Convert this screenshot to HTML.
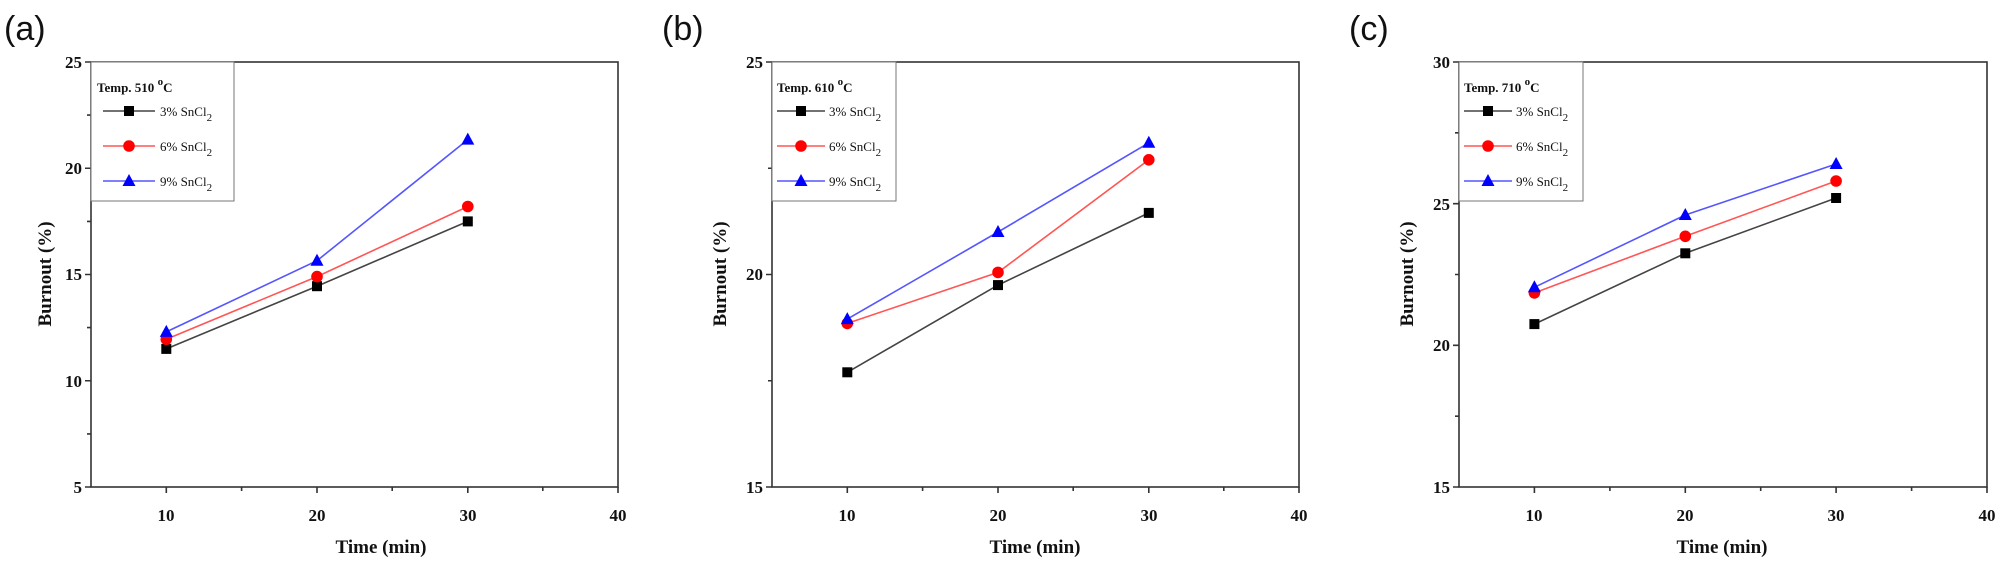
<!DOCTYPE html>
<html><head><meta charset="utf-8"><style>
html,body{margin:0;padding:0;background:#fff;}
svg{display:block;}
.tl{font-family:"Liberation Serif",serif;font-weight:bold;font-size:17px;fill:#111;}
.lab{font-family:"Liberation Serif",serif;font-weight:bold;font-size:19px;fill:#111;}
.leg{font-family:"Liberation Serif",serif;font-size:13px;fill:#111;}
.legt{font-family:"Liberation Serif",serif;font-weight:bold;font-size:13px;fill:#111;}
.pl{font-family:"Liberation Sans",sans-serif;font-size:34px;fill:#111;}
</style></head><body>
<svg width="2002" height="562" viewBox="0 0 2002 562" xmlns="http://www.w3.org/2000/svg">
<defs>
<g id="sq"><rect x="-5" y="-5" width="10" height="10" fill="#000"/></g>
<g id="ci"><circle r="5.8" fill="#f00"/></g>
<g id="tr"><polygon points="0,-7 6.5,5 -6.5,5" fill="#00f"/></g>
</defs>

<!-- ===== Panel A ===== -->
<text class="pl" x="4" y="40">(a)</text>
<g stroke="#333" stroke-width="1.6" fill="none">
<rect x="91" y="62" width="527" height="425"/>
<path d="M91 62h-6M91 168.25h-6M91 274.5h-6M91 380.75h-6M91 487h-6M91 115.1h-4M91 221.4h-4M91 327.6h-4M91 433.9h-4"/>
<path d="M166.3 487v6M317 487v6M467.8 487v6M618 487v6M241.6 487v4M392.2 487v4M542.8 487v4"/>
</g>
<g class="tl" text-anchor="end">
<text x="82" y="68">25</text><text x="82" y="174">20</text><text x="82" y="280">15</text><text x="82" y="387">10</text><text x="82" y="493">5</text>
</g>
<g class="tl" text-anchor="middle">
<text x="166" y="521">10</text><text x="317" y="521">20</text><text x="468" y="521">30</text><text x="618" y="521">40</text>
</g>
<text class="lab" x="381" y="553" text-anchor="middle">Time (min)</text>
<text class="lab" transform="translate(51,274) rotate(-90)" text-anchor="middle">Burnout (%)</text>
<rect x="91" y="62" width="143" height="139" fill="#fff" stroke="#777" stroke-width="1"/>
<text class="legt" x="97" y="92">Temp. 510 <tspan dy="-7" font-size="11">o</tspan><tspan dy="7">C</tspan></text>
<line x1="103" y1="111" x2="155" y2="111" stroke="#444" stroke-width="1.5"/><use href="#sq" x="129" y="111"/>
<text class="leg" x="160" y="116">3% SnCl<tspan dy="5" font-size="11">2</tspan></text>
<line x1="103" y1="146" x2="155" y2="146" stroke="#f55" stroke-width="1.5"/><use href="#ci" x="129" y="146"/>
<text class="leg" x="160" y="151">6% SnCl<tspan dy="5" font-size="11">2</tspan></text>
<line x1="103" y1="181" x2="155" y2="181" stroke="#55f" stroke-width="1.5"/><use href="#tr" x="129" y="181"/>
<text class="leg" x="160" y="186">9% SnCl<tspan dy="5" font-size="11">2</tspan></text>
<polyline points="166.3,348.9 317,286.2 467.8,221.4" fill="none" stroke="#444" stroke-width="1.6"/>
<polyline points="166.3,339.3 317,276.6 467.8,206.5" fill="none" stroke="#f55" stroke-width="1.6"/>
<polyline points="166.3,331.9 317,260.7 467.8,139.6" fill="none" stroke="#55f" stroke-width="1.6"/>
<use href="#sq" x="166.3" y="348.9"/><use href="#sq" x="317" y="286.2"/><use href="#sq" x="467.8" y="221.4"/>
<use href="#ci" x="166.3" y="339.3"/><use href="#ci" x="317" y="276.6"/><use href="#ci" x="467.8" y="206.5"/>
<use href="#tr" x="166.3" y="331.9"/><use href="#tr" x="317" y="260.7"/><use href="#tr" x="467.8" y="139.6"/>

<!-- ===== Panel B ===== -->
<text class="pl" x="662" y="40">(b)</text>
<g stroke="#333" stroke-width="1.6" fill="none">
<rect x="772" y="62" width="527" height="425"/>
<path d="M772 62h-6M772 274.5h-6M772 487h-6M772 168.25h-4M772 380.75h-4"/>
<path d="M847.3 487v6M998 487v6M1148.8 487v6M1299 487v6M922.6 487v4M1073.2 487v4M1223.8 487v4"/>
</g>
<g class="tl" text-anchor="end">
<text x="763" y="68">25</text><text x="763" y="280">20</text><text x="763" y="493">15</text>
</g>
<g class="tl" text-anchor="middle">
<text x="847" y="521">10</text><text x="998" y="521">20</text><text x="1149" y="521">30</text><text x="1299" y="521">40</text>
</g>
<text class="lab" x="1035" y="553" text-anchor="middle">Time (min)</text>
<text class="lab" transform="translate(726,274) rotate(-90)" text-anchor="middle">Burnout (%)</text>
<rect x="772" y="62" width="124" height="139" fill="#fff" stroke="#777" stroke-width="1"/>
<text class="legt" x="777" y="92">Temp. 610 <tspan dy="-7" font-size="11">o</tspan><tspan dy="7">C</tspan></text>
<line x1="777" y1="111" x2="825" y2="111" stroke="#444" stroke-width="1.5"/><use href="#sq" x="801" y="111"/>
<text class="leg" x="829" y="116">3% SnCl<tspan dy="5" font-size="11">2</tspan></text>
<line x1="777" y1="146" x2="825" y2="146" stroke="#f55" stroke-width="1.5"/><use href="#ci" x="801" y="146"/>
<text class="leg" x="829" y="151">6% SnCl<tspan dy="5" font-size="11">2</tspan></text>
<line x1="777" y1="181" x2="825" y2="181" stroke="#55f" stroke-width="1.5"/><use href="#tr" x="801" y="181"/>
<text class="leg" x="829" y="186">9% SnCl<tspan dy="5" font-size="11">2</tspan></text>
<polyline points="847.3,372.3 998,285.1 1148.8,212.9" fill="none" stroke="#444" stroke-width="1.6"/>
<polyline points="847.3,323.4 998,272.4 1148.8,159.8" fill="none" stroke="#f55" stroke-width="1.6"/>
<polyline points="847.3,319.1 998,232 1148.8,142.8" fill="none" stroke="#55f" stroke-width="1.6"/>
<use href="#sq" x="847.3" y="372.3"/><use href="#sq" x="998" y="285.1"/><use href="#sq" x="1148.8" y="212.9"/>
<use href="#ci" x="847.3" y="323.4"/><use href="#ci" x="998" y="272.4"/><use href="#ci" x="1148.8" y="159.8"/>
<use href="#tr" x="847.3" y="319.1"/><use href="#tr" x="998" y="232"/><use href="#tr" x="1148.8" y="142.8"/>

<!-- ===== Panel C ===== -->
<text class="pl" x="1349" y="40">(c)</text>
<g stroke="#333" stroke-width="1.6" fill="none">
<rect x="1459" y="62" width="528" height="425"/>
<path d="M1459 62h-6M1459 203.7h-6M1459 345.3h-6M1459 487h-6M1459 132.8h-4M1459 274.5h-4M1459 416.2h-4"/>
<path d="M1534.4 487v6M1685.3 487v6M1836.1 487v6M1987 487v6M1609.9 487v4M1760.7 487v4M1911.6 487v4"/>
</g>
<g class="tl" text-anchor="end">
<text x="1450" y="68">30</text><text x="1450" y="210">25</text><text x="1450" y="351">20</text><text x="1450" y="493">15</text>
</g>
<g class="tl" text-anchor="middle">
<text x="1534" y="521">10</text><text x="1685" y="521">20</text><text x="1836" y="521">30</text><text x="1987" y="521">40</text>
</g>
<text class="lab" x="1722" y="553" text-anchor="middle">Time (min)</text>
<text class="lab" transform="translate(1413,274) rotate(-90)" text-anchor="middle">Burnout (%)</text>
<rect x="1459" y="62" width="124" height="139" fill="#fff" stroke="#777" stroke-width="1"/>
<text class="legt" x="1464" y="92">Temp. 710 <tspan dy="-7" font-size="11">o</tspan><tspan dy="7">C</tspan></text>
<line x1="1464" y1="111" x2="1512" y2="111" stroke="#444" stroke-width="1.5"/><use href="#sq" x="1488" y="111"/>
<text class="leg" x="1516" y="116">3% SnCl<tspan dy="5" font-size="11">2</tspan></text>
<line x1="1464" y1="146" x2="1512" y2="146" stroke="#f55" stroke-width="1.5"/><use href="#ci" x="1488" y="146"/>
<text class="leg" x="1516" y="151">6% SnCl<tspan dy="5" font-size="11">2</tspan></text>
<line x1="1464" y1="181" x2="1512" y2="181" stroke="#55f" stroke-width="1.5"/><use href="#tr" x="1488" y="181"/>
<text class="leg" x="1516" y="186">9% SnCl<tspan dy="5" font-size="11">2</tspan></text>
<polyline points="1534.4,324.1 1685.3,253.3 1836.1,198" fill="none" stroke="#444" stroke-width="1.6"/>
<polyline points="1534.4,292.9 1685.3,236.3 1836.1,181" fill="none" stroke="#f55" stroke-width="1.6"/>
<polyline points="1534.4,287.3 1685.3,215 1836.1,164" fill="none" stroke="#55f" stroke-width="1.6"/>
<use href="#sq" x="1534.4" y="324.1"/><use href="#sq" x="1685.3" y="253.3"/><use href="#sq" x="1836.1" y="198"/>
<use href="#ci" x="1534.4" y="292.9"/><use href="#ci" x="1685.3" y="236.3"/><use href="#ci" x="1836.1" y="181"/>
<use href="#tr" x="1534.4" y="287.3"/><use href="#tr" x="1685.3" y="215"/><use href="#tr" x="1836.1" y="164"/>
</svg>
</body></html>
